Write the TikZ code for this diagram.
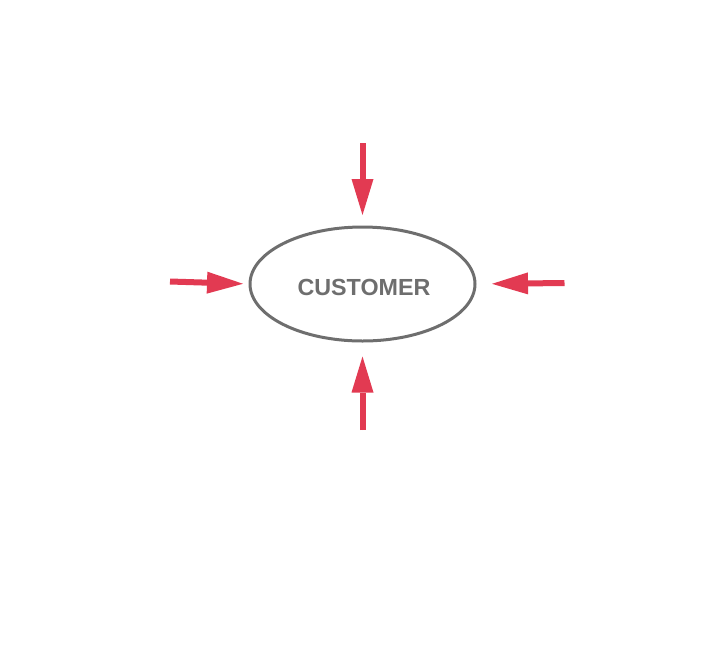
\documentclass[tikz,border=0pt]{standalone}
\usepackage{fontspec}
\setmainfont{Liberation Sans}
\usetikzlibrary{shapes.geometric,arrows.meta}
\definecolor{arrred}{HTML}{E23A52}
\definecolor{ellgrey}{HTML}{6E6E6E}
\tikzset{
  custbox/.style={ellipse, draw=ellgrey, line width=3pt, inner sep=0pt, outer sep=0pt,
    minimum width=225pt, minimum height=114pt, text=ellgrey,
    font=\fontsize{23.3}{26}\selectfont\bfseries},
  redarrow/.style={draw=arrred, line width=6pt,
    -{Triangle[length=36pt,width=22pt,line width=0pt]}, fill=arrred}
}
\begin{document}
\begin{tikzpicture}[x=1pt,y=-1pt]
\useasboundingbox (0,0) rectangle (718,649);
\node[custbox] (cust) at (362.5,284) {\hspace*{3pt}\raisebox{-11pt}[0pt][0pt]{CUSTOMER}};
\coordinate (topstart) at (362.5,143);
\coordinate (leftstart) at (170,281.5);
\coordinate (rightstart) at (564.5,283);
\coordinate (botstart) at (362.5,430);
\draw[redarrow, shorten >=12pt] (topstart) -- (cust.north);
\draw[redarrow, shorten >=7pt] (leftstart) -- (cust.west);
\draw[redarrow, shorten >=17pt] (rightstart) -- (cust.east);
\draw[redarrow, shorten >=15.5pt] (botstart) -- (cust.south);
\end{tikzpicture}
\end{document}
